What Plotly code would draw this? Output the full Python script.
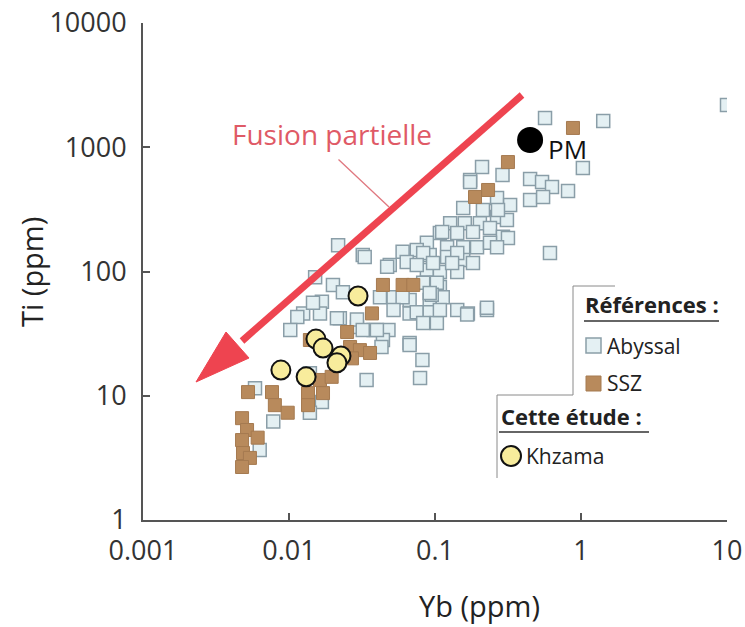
import plotly.graph_objects as go

# ---------------- data (Yb ppm, Ti ppm) ----------------
abyssal_yb = [10, 0.567, 1.42, 1.03, 0.21, 0.29, 0.174, 0.448, 0.541, 0.633, 0.815, 0.448, 0.55,
              0.266, 0.327, 0.156, 0.213, 0.266, 0.311, 0.127, 0.16, 0.203, 0.108, 0.142, 0.182,
              0.238, 0.292, 0.088, 0.121, 0.156, 0.194, 0.238, 0.06, 0.075, 0.092, 0.121, 0.156,
              0.182, 0.613, 0.032, 0.049, 0.064, 0.088, 0.108, 0.142, 0.088, 0.108, 0.052, 0.067,
              0.092, 0.113, 0.142, 0.168, 0.227, 0.067, 0.088, 0.174, 0.316, 0.112, 0.033, 0.083,
              0.103, 0.06, 0.095, 0.075, 0.092, 0.166, 0.083, 0.103, 0.038, 0.048, 0.067, 0.044,
              0.0217, 0.0151, 0.047, 0.083, 0.02, 0.0234, 0.0168, 0.0125, 0.0163, 0.0223, 0.0292,
              0.042, 0.052, 0.092, 0.0114, 0.0102, 0.0146, 0.0213, 0.0292, 0.032, 0.040, 0.043,
              0.067, 0.082, 0.079, 0.034, 0.0139, 0.00585, 0.0078, 0.0168, 0.0139, 0.0063, 0.266,
              0.142, 0.131, 0.097, 0.27, 0.227, 0.108, 0.075]
abyssal_ti = [2190, 1720, 1630, 680, 694, 598, 545, 555, 525, 479, 445, 376, 398,
              391, 343, 324, 313, 275, 260, 245, 245, 245, 204, 204, 208,
              224, 190, 170, 157, 157, 157, 170, 144, 149, 136, 131, 124,
              117, 141, 136, 113, 119, 103, 99, 99, 81, 75, 62, 59,
              59, 62, 49, 46, 49, 46, 41, 525, 186, 208, 131, 81,
              81, 62, 65, 47, 47, 45, 38.5, 38.5, 33.8, 33.8, 26.6, 28.1,
              163, 90, 109, 141, 78, 68, 57, 46, 46, 42, 35.7,
              62, 49, 67, 43, 33.8, 56, 42, 41, 33.8, 33.8, 24.7,
              25.6, 19.4, 13.9, 13.4, 15.2, 11.5, 6.2, 8.9, 7.3, 3.66, 157,
              141, 117, 117, 313, 51, 49, 113]

ssz_yb = [0.881, 0.316, 0.231, 0.188, 0.044, 0.06, 0.071, 0.037, 0.025, 0.0139, 0.0262, 0.0306,
          0.0359, 0.00524, 0.00765, 0.008, 0.0098, 0.0135, 0.0171, 0.0135, 0.00477, 0.00516,
          0.00477, 0.0061, 0.00484, 0.0054, 0.00477, 0.0163, 0.0196, 0.022, 0.027]
ssz_ti = [1430, 760, 453, 398, 78, 78, 78, 46, 32.6, 28.1, 24.7, 23.3,
          22.1, 10.7, 10.7, 8.4, 7.3, 10.5, 10.5, 8.4, 6.6, 5.3,
          4.4, 4.6, 3.46, 3.16, 2.67, 13.4, 14.2, 19.4, 20]

khzama_yb = [0.0297, 0.0088, 0.0131, 0.0153, 0.0227, 0.0171, 0.0213]
khzama_ti = [63.5, 16.1, 14.2, 28.6, 20.9, 24.2, 18.4]

pm_yb = [0.448]
pm_ti = [1143]

x_ticks = [0.001, 0.01, 0.1, 1, 10]
x_ticktext = ["0.001", "0.01", "0.1", "1", "10"]
y_ticks = [1, 10, 100, 1000, 10000]
y_ticktext = ["1", "10", "100", "1000", "10000"]

FONT = "Open Sans"
AXIS_COL = "#555555"
ABY_FILL = "#e4f0f3"
ABY_LINE = "#8a9ea8"
SSZ_FILL = "#b88a5c"
SSZ_LINE = "#a57a50"
KHZ_FILL = "#f8ec9c"
RED = "#ee4450"

fig = go.Figure()
fig.add_trace(go.Scatter(x=abyssal_yb, y=abyssal_ti, mode="markers", name="Abyssal",
                         marker=dict(symbol="square", size=13, color=ABY_FILL,
                                     line=dict(color=ABY_LINE, width=1.5))))
fig.add_trace(go.Scatter(x=ssz_yb, y=ssz_ti, mode="markers", name="SSZ",
                         marker=dict(symbol="square", size=13, color=SSZ_FILL,
                                     line=dict(color=SSZ_LINE, width=1))))
fig.add_trace(go.Scatter(x=khzama_yb, y=khzama_ti, mode="markers", name="Khzama",
                         marker=dict(symbol="circle", size=19, color=KHZ_FILL,
                                     line=dict(color="#111111", width=2))))
fig.add_trace(go.Scatter(x=pm_yb, y=pm_ti, mode="markers", name="PM",
                         marker=dict(symbol="circle", size=26, color="#000000")))

# page coordinates (body margin removed in the page, see post_script)
W, H = 745, 627
L, R, T, B = 143, 727, 23, 520


def px(x):
    return (x - L) / (R - L)


def py(y):
    return (B - y) / (B - T)


annotations = []
# leader line
annotations.append(dict(xref="x domain", yref="y domain", axref="x domain", ayref="y domain",
                        x=px(389), y=py(207), ax=px(337), ay=py(158), showarrow=True,
                        arrowhead=0, arrowwidth=1.3, arrowcolor="#e07880", text=""))
annotations.append(dict(xref="paper", yref="paper", x=px(332), y=py(134), text="Fusion partielle",
                        showarrow=False, font=dict(family=FONT, size=28, color="#df5a66"),
                        xanchor="center", yanchor="middle"))
annotations.append(dict(xref="paper", yref="paper", x=px(546), y=py(149), text="PM",
                        showarrow=False, font=dict(family=FONT, size=26, color="#111111"),
                        xanchor="left", yanchor="middle"))
# axis titles
annotations.append(dict(xref="paper", yref="paper", x=px(31), y=py(272), text="Ti (ppm)",
                        textangle=-90, showarrow=False,
                        font=dict(family=FONT, size=29, color="#222222"),
                        xanchor="center", yanchor="middle"))
annotations.append(dict(xref="paper", yref="paper", x=px(479), y=py(605), text="Yb (ppm)",
                        showarrow=False, font=dict(family=FONT, size=29, color="#222222"),
                        xanchor="center", yanchor="middle"))
# legend texts
head_font = dict(family=FONT, size=22, color="#222222")
leg_font = dict(family=FONT, size=21, color="#222222")
annotations.append(dict(xref="paper", yref="paper", x=px(583), y=py(304), text="<b>Références :</b>",
                        showarrow=False, font=head_font, xanchor="left", yanchor="middle"))
annotations.append(dict(xref="paper", yref="paper", x=px(605), y=py(346), text="Abyssal",
                        showarrow=False, font=leg_font, xanchor="left", yanchor="middle"))
annotations.append(dict(xref="paper", yref="paper", x=px(605), y=py(383), text="SSZ",
                        showarrow=False, font=leg_font, xanchor="left", yanchor="middle"))
annotations.append(dict(xref="paper", yref="paper", x=px(499), y=py(416), text="<b>Cette étude :</b>",
                        showarrow=False, font=head_font, xanchor="left", yanchor="middle"))
annotations.append(dict(xref="paper", yref="paper", x=px(524), y=py(456), text="Khzama",
                        showarrow=False, font=leg_font, xanchor="left", yanchor="middle"))

shapes = []
# partial melting arrow: shaft + head
tip = (196, 382)
base = (238, 345)
c1 = (249, 358)
c2 = (226, 332)
shapes.append(dict(type="line", xref="paper", yref="paper", x0=px(522), y0=py(95),
                   x1=px(base[0] + 4), y1=py(base[1] - 4), line=dict(color=RED, width=7)))
shapes.append(dict(type="path", xref="paper", yref="paper",
                   path=f"M{px(tip[0])},{py(tip[1])} L{px(c1[0])},{py(c1[1])} L{px(c2[0])},{py(c2[1])} Z",
                   fillcolor=RED, line=dict(color=RED, width=1)))

line_gray = dict(color="#8a8a8a", width=1)
# legend brackets
shapes.append(dict(type="line", xref="paper", yref="paper", x0=px(573), y0=py(286), x1=px(615), y1=py(286), line=line_gray))
shapes.append(dict(type="line", xref="paper", yref="paper", x0=px(573), y0=py(286), x1=px(573), y1=py(395), line=line_gray))
shapes.append(dict(type="line", xref="paper", yref="paper", x0=px(497), y0=py(395), x1=px(573), y1=py(395), line=line_gray))
shapes.append(dict(type="line", xref="paper", yref="paper", x0=px(497), y0=py(395), x1=px(497), y1=py(478), line=line_gray))
# underlines
shapes.append(dict(type="line", xref="paper", yref="paper", x0=px(584), y0=py(321), x1=px(719), y1=py(321),
                   line=dict(color="#333333", width=1.5)))
shapes.append(dict(type="line", xref="paper", yref="paper", x0=px(499), y0=py(432), x1=px(649), y1=py(432),
                   line=dict(color="#333333", width=1.5)))
# legend swatches
shapes.append(dict(type="rect", xref="paper", yref="paper", x0=px(586), y0=py(338), x1=px(601), y1=py(353),
                   fillcolor=ABY_FILL, line=dict(color=ABY_LINE, width=1.5)))
shapes.append(dict(type="rect", xref="paper", yref="paper", x0=px(586), y0=py(376), x1=px(601), y1=py(391),
                   fillcolor=SSZ_FILL, line=dict(color=SSZ_LINE, width=1)))
shapes.append(dict(type="circle", xref="paper", yref="paper", x0=px(501), y0=py(446), x1=px(521), y1=py(466),
                   fillcolor=KHZ_FILL, line=dict(color="#111111", width=2)))

fig.update_layout(
    width=W, height=H,
    margin=dict(l=L, r=W - R, t=T, b=H - B),
    paper_bgcolor="white", plot_bgcolor="white",
    showlegend=False,
    annotations=annotations,
    shapes=shapes,
    font=dict(family=FONT, color="#222222"),
)
fig.update_xaxes(type="log", range=[-3, 1], tickmode="array", tickvals=x_ticks, ticktext=x_ticktext,
                 showgrid=False, zeroline=False, showline=True, linecolor=AXIS_COL, linewidth=2,
                 ticks="inside", ticklen=7, tickwidth=1.5, tickcolor=AXIS_COL, automargin=False,
                 ticklabeloverflow="allow",
                 tickfont=dict(family=FONT, size=27, color="#333333"), ticklabelstandoff=6)
fig.update_yaxes(type="log", range=[0, 4], tickmode="array", tickvals=y_ticks, ticktext=y_ticktext,
                 showgrid=False, zeroline=False, showline=True, linecolor=AXIS_COL, linewidth=2,
                 ticks="inside", ticklen=7, tickwidth=1.5, tickcolor=AXIS_COL, automargin=False,
                 ticklabeloverflow="allow",
                 tickfont=dict(family=FONT, size=27, color="#333333"), ticklabelstandoff=9)

fig.write_html("out.html", config={"displayModeBar": False},
               post_script="document.body.style.margin='0';document.body.style.overflow='hidden';")
